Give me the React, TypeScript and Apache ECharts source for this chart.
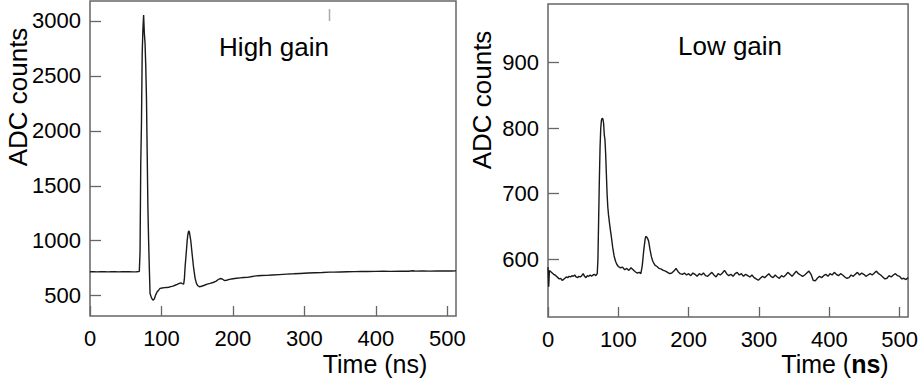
import React, { useEffect, useRef } from "react";
import * as echarts from "echarts";

const highT = [0, 5, 10, 15, 20, 25, 30, 35, 40, 45, 50, 55, 60, 65, 68, 69, 70, 71, 72, 73, 74, 75, 76, 77, 78, 79, 80, 81, 82, 83, 84, 86, 88, 90, 92, 94, 96, 98, 101, 104, 107, 110, 113, 116, 119, 122, 125, 127, 129, 131, 132, 133, 135, 136, 137, 138, 139, 140, 141, 143, 145, 147, 149, 151, 153, 156, 160, 164, 168, 172, 176, 179, 182, 185, 188, 191, 195, 200, 205, 210, 215, 220, 225, 230, 235, 240, 247, 255, 265, 275, 285, 294, 305, 315, 325, 335, 341, 350, 360, 370, 380, 388, 400, 410, 420, 434, 445, 452, 455, 465, 475, 485, 495, 505, 512];
const highV = [718, 719, 717, 718, 719, 717, 718, 719, 717, 718, 719, 718, 717, 718, 719, 722, 900, 1700, 2070, 2700, 2920, 3055, 2890, 2800, 2590, 2300, 1800, 1300, 1000, 750, 520, 480, 459, 470, 510, 535, 550, 566, 570, 573, 575, 577, 582, 587, 595, 603, 612, 616, 610, 606, 650, 760, 920, 1006, 1060, 1090, 1080, 1040, 1000, 870, 750, 660, 610, 590, 581, 586, 595, 605, 612, 620, 630, 645, 656, 652, 638, 640, 648, 654, 658, 662, 665, 667, 672, 678, 682, 684, 685, 688, 692, 696, 699, 702, 706, 709, 711, 714, 714, 716, 718, 719, 720, 720, 721, 722, 721, 723, 722, 727, 723, 724, 723, 725, 724, 725, 726];

const lowT = [0, 1, 2, 4, 6, 8, 10, 12, 14, 16, 18, 20, 22, 24, 26, 28, 30, 32, 34, 36, 38, 40, 42, 44, 46, 48, 50, 52, 54, 56, 58, 60, 62, 64, 66, 68, 70, 71, 72, 73, 74, 75, 76, 77, 78, 79, 80, 81, 82, 83, 84, 85, 86, 88, 90, 92, 94, 96, 98, 100, 103, 106, 109, 112, 115, 118, 121, 124, 127, 130, 132, 134, 136, 138, 139, 141, 143, 145, 147, 149, 152, 155, 158, 161, 164, 167, 170, 173, 176, 179, 182, 185, 188, 191, 194, 197, 200, 203, 206, 209, 212, 215, 218, 221, 224, 227, 230, 233, 236, 239, 242, 245, 248, 251, 254, 257, 260, 263, 266, 269, 272, 275, 278, 281, 284, 287, 290, 293, 296, 299, 302, 305, 308, 311, 314, 317, 320, 323, 326, 329, 332, 335, 338, 341, 344, 347, 350, 353, 356, 359, 362, 365, 368, 371, 374, 377, 380, 383, 386, 389, 392, 395, 398, 401, 404, 407, 410, 413, 416, 419, 422, 425, 428, 431, 434, 437, 440, 443, 446, 449, 452, 455, 458, 461, 464, 467, 470, 473, 476, 479, 482, 485, 488, 491, 494, 497, 500, 503, 506, 509, 512];
const lowV = [588, 558, 583, 581, 579, 577, 576, 574, 572, 570, 571, 568, 569, 571, 573, 572, 574, 573, 575, 574, 576, 573, 572, 574, 573, 575, 578, 574, 572, 575, 574, 576, 574, 576, 577, 575, 578, 600, 660, 720, 770, 800, 812, 815, 814, 808, 790, 782, 760, 730, 700, 680, 668, 650, 635, 618, 605, 597, 592, 589, 587, 588, 584, 586, 583, 587, 584, 581, 579, 580, 578, 590, 612, 630, 635, 633, 628, 615, 604, 597, 591, 589, 586, 585, 583, 582, 580, 578, 579, 582, 586, 581, 578, 577, 579, 576, 578, 575, 579, 577, 574, 578, 576, 579, 575, 574, 577, 580, 576, 573, 578, 576, 579, 583, 578, 575, 577, 574, 578, 580, 576, 578, 574, 577, 575, 573, 576, 572, 570, 568, 571, 574, 572, 575, 578, 574, 572, 576, 573, 571, 575, 573, 576, 580, 577, 574, 578, 582, 578, 576, 574, 576, 579, 582, 577, 568, 567, 571, 574, 572, 575, 577, 574, 578, 576, 580, 577, 575, 578, 576, 573, 571, 572, 576, 574, 577, 580, 576, 579, 577, 574, 576, 578, 576, 579, 582, 578, 576, 573, 570, 571, 575, 573, 576, 578, 575, 574, 570, 571, 569, 572];

const xTicks = [0, 100, 200, 300, 400, 500];
const highTicks = [500, 1000, 1500, 2000, 2500, 3000];
const lowTicks = [600, 700, 800, 900];

const FONT = "'Liberation Sans', Arial, sans-serif";
const FRAME = "#666";

export default function App() {
  const ref = useRef<HTMLDivElement>(null);
  useEffect(() => {
    if (!ref.current) return;
    const chart = echarts.init(ref.current, undefined, { renderer: "svg" });
    const fmt = (v: number) => String(v);
    const xAxisBase = (gridIndex: number) => ({
      type: "value" as const,
      gridIndex,
      min: 0,
      max: 512,
      axisLine: { show: false },
      splitLine: { show: false },
      axisTick: { show: true, inside: true, length: 10, customValues: xTicks, lineStyle: { color: FRAME, width: 1.3 } },
      axisLabel: { customValues: xTicks, formatter: fmt, margin: 11, fontSize: 22, fontFamily: FONT, color: "#000" },
    });
    const yAxisBase = (gridIndex: number, min: number, max: number, ticks: number[]) => ({
      type: "value" as const,
      gridIndex,
      min,
      max,
      axisLine: { show: false },
      splitLine: { show: false },
      axisTick: { show: true, inside: true, length: 11, customValues: ticks, lineStyle: { color: FRAME, width: 1.3 } },
      axisLabel: { customValues: ticks, formatter: fmt, margin: 9, fontSize: 22, fontFamily: FONT, color: "#000" },
    });
    chart.setOption({
      animation: false,
      backgroundColor: "#fff",
      grid: [
        { left: 90, top: 1, width: 366, height: 315, show: true, borderColor: FRAME, borderWidth: 1.5, backgroundColor: "transparent" },
        { left: 548, top: 4, width: 364, height: 313, show: true, borderColor: FRAME, borderWidth: 1.5, backgroundColor: "transparent" },
      ],
      xAxis: [xAxisBase(0), xAxisBase(1)],
      yAxis: [yAxisBase(0, 315, 3182, highTicks), yAxisBase(1, 512, 989, lowTicks)],
      series: [
        {
          type: "line",
          xAxisIndex: 0,
          yAxisIndex: 0,
          data: highT.map((t, i) => [t, highV[i]]),
          showSymbol: false,
          symbol: "none",
          lineStyle: { color: "#1a1a1a", width: 1.4 },
        },
        {
          type: "line",
          xAxisIndex: 1,
          yAxisIndex: 1,
          data: lowT.map((t, i) => [t, lowV[i]]),
          showSymbol: false,
          symbol: "none",
          lineStyle: { color: "#1a1a1a", width: 1.4 },
        },
      ],
      graphic: [
        { type: "text", x: 274, y: 47, style: { text: "High gain", fontSize: 26, fontFamily: FONT, fill: "#000", align: "center", verticalAlign: "middle" } },
        { type: "text", x: 730, y: 46, style: { text: "Low gain", fontSize: 26, fontFamily: FONT, fill: "#000", align: "center", verticalAlign: "middle" } },
        { type: "text", x: 18, y: 97, rotation: Math.PI / 2, style: { text: "ADC counts", fontSize: 26, fontFamily: FONT, fill: "#000", align: "center", verticalAlign: "middle" } },
        { type: "text", x: 482, y: 100, rotation: Math.PI / 2, style: { text: "ADC counts", fontSize: 26, fontFamily: FONT, fill: "#000", align: "center", verticalAlign: "middle" } },
        { type: "text", x: 375, y: 364, style: { text: "Time (ns)", fontSize: 25, fontFamily: FONT, fill: "#000", align: "center", verticalAlign: "middle" } },
        {
          type: "text",
          x: 835,
          y: 364,
          style: {
            text: "Time ({b|ns})",
            fontSize: 25,
            fontFamily: FONT,
            fill: "#000",
            align: "center",
            verticalAlign: "middle",
            rich: { b: { fontSize: 25, fontFamily: FONT, fontWeight: "bold", fill: "#000" } },
          },
        },
        { type: "line", shape: { x1: 329.5, y1: 9, x2: 329.5, y2: 21 }, style: { stroke: "#aaa", lineWidth: 1.5 } },
      ],
    });
    return () => chart.dispose();
  }, []);
  return <div ref={ref} style={{ position: "absolute", left: 0, top: 0, width: 921, height: 384 }} />;
}
